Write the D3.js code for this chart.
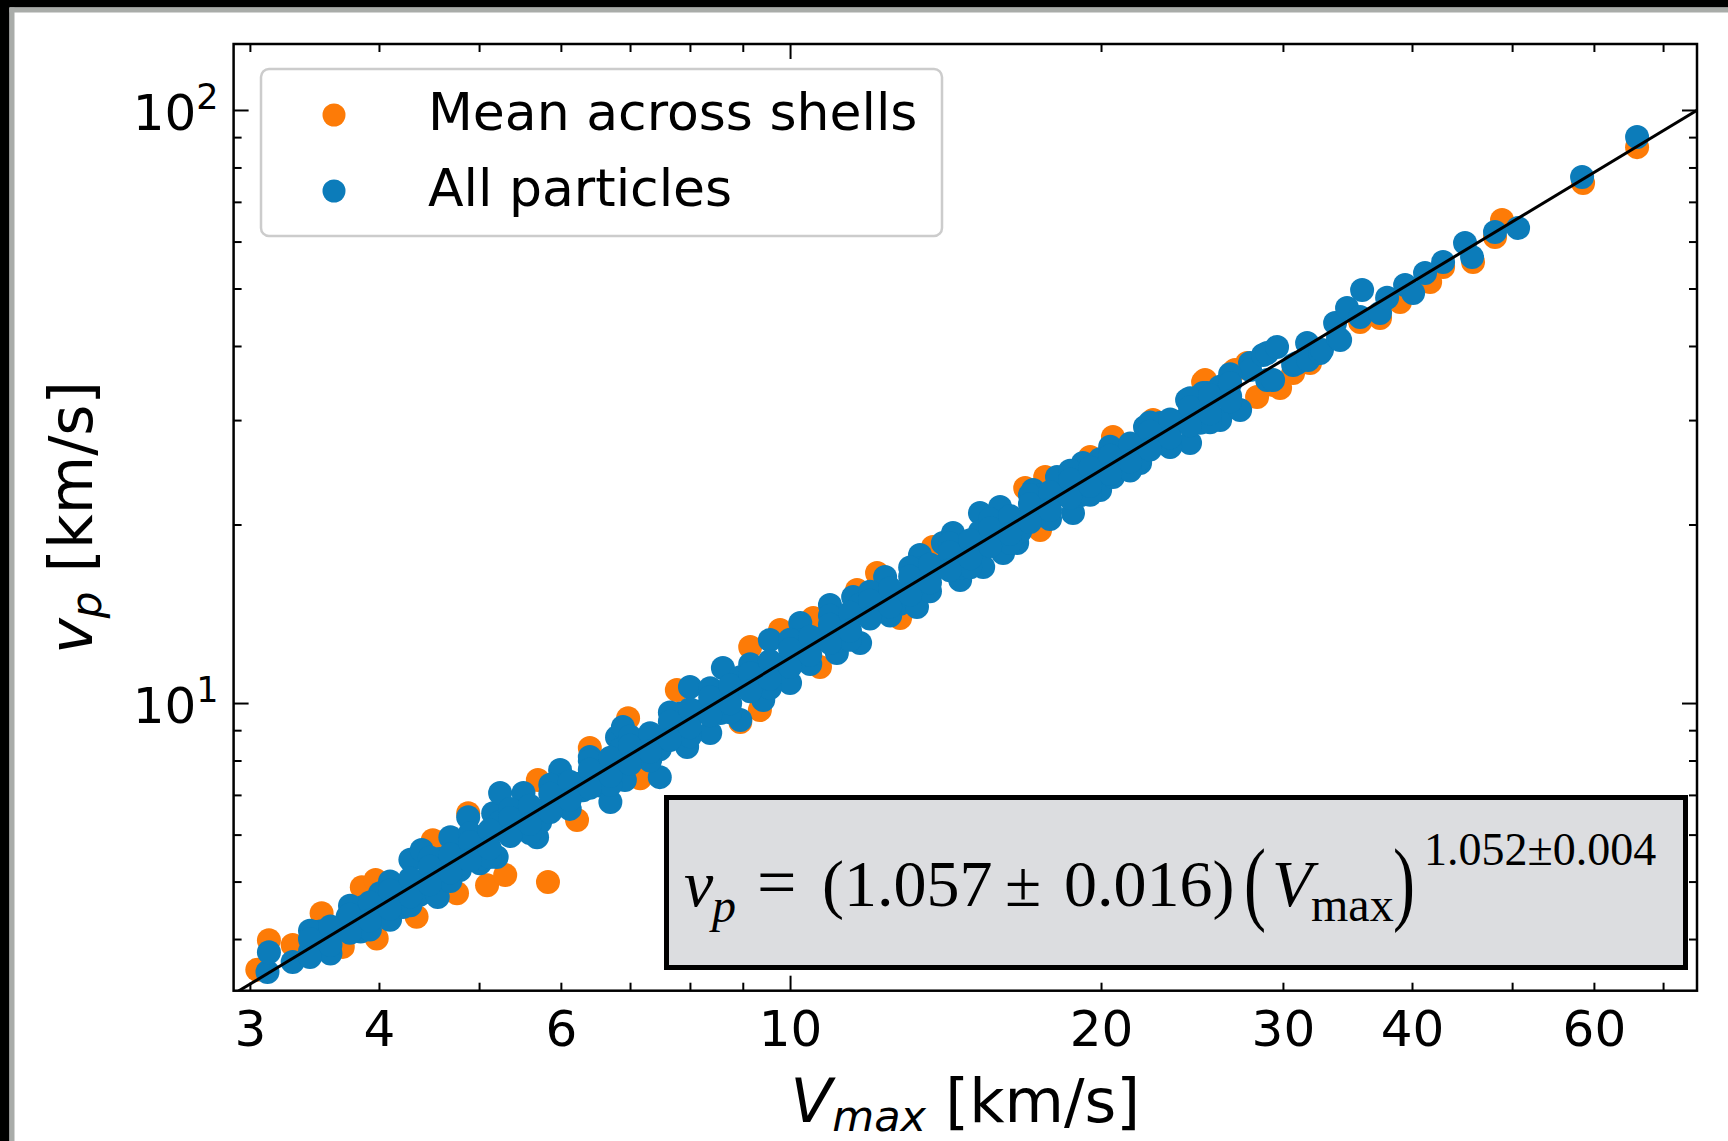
<!DOCTYPE html>
<html lang="en">
<head>
<meta charset="UTF-8" />
<title>vp vs Vmax</title>
<script src="https://cdn.jsdelivr.net/npm/d3@7/dist/d3.min.js"></script>
<style>
  body { margin: 0; padding: 0; background: #fff; }
  svg { display: block; }
</style>
</head>
<body>
<svg width="1728" height="1141"></svg>
<script>
// values, [Vmax, vp] in km/s
var meanShells = [
  [3.05,3.55],[3.13,3.98],[3.30,3.91],[3.52,4.42],[3.59,3.88],[3.69,3.88],[3.98,4.01],[3.85,4.89],
  [3.97,5.03],[4.35,4.36],[4.51,5.87],[4.76,4.78],[4.88,6.52],[5.09,4.93],[5.30,5.13],[5.83,4.99],
  [5.70,7.42],[6.22,6.35],[6.40,8.40],[7.16,7.47],[6.97,9.43],[7.77,10.52],[8.95,9.29],[9.35,9.73],
  [9.15,12.43],[9.78,13.28],[10.69,11.50],[10.53,13.91],[11.61,15.51],[12.14,16.57],[12.78,13.91],
  [13.75,18.33],[16.89,23.04],[17.46,19.58],[17.66,24.05],[19.52,25.99],[20.54,28.09],[22.46,30.01],
  [25.11,34.78],[25.22,35.05],[26.84,36.16],[26.96,36.44],[27.70,37.44],[28.32,32.81],[29.35,34.38],
  [29.81,33.98],[30.69,36.02],[31.87,37.44],[35.63,43.90],[37.25,44.59],[38.95,47.45],[41.65,51.28],
  [42.87,54.36],[45.83,55.43],[48.13,61.08],[48.89,65.25],[58.57,75.32],[66.06,86.57]
]
var allParticles = [
  [3.12,3.52],[3.13,3.80],[3.30,3.66],[3.47,4.11],[3.53,4.09],[3.51,4.12],[3.67,4.18],[3.73,4.36],
  [3.84,4.12],[3.86,4.53],[4.01,4.78],[4.01,4.74],[4.10,4.31],[4.19,4.80],[4.22,4.53],[4.29,5.44],
  [4.38,4.75],[4.40,5.65],[4.55,5.17],[4.56,4.71],[4.58,5.46],[4.69,5.94],[4.79,5.23],[4.79,5.52],
  [4.88,6.42],[5.01,5.37],[5.01,5.47],[5.16,6.52],[5.20,5.50],[5.24,7.05],[5.24,6.30],[5.39,6.11],
  [5.48,6.35],[5.52,7.05],[5.69,5.94],[5.73,6.30],[5.99,7.71],[5.99,7.25],[6.03,6.78],[6.26,7.31],
  [6.30,7.13],[6.40,8.11],[6.55,7.26],[6.70,6.81],[6.80,8.76],[6.85,8.35],[6.89,9.11],[6.92,7.42],
  [7.16,8.23],[7.16,8.41],[7.48,7.50],[7.48,8.36],[7.65,8.66],[7.83,9.60],[7.95,8.43],[8.00,10.64],
  [8.18,9.68],[8.37,8.90],[8.56,9.62],[8.61,11.46],[8.95,9.36],[8.95,11.05],[9.35,11.14],[9.42,10.12],
  [9.56,12.77],[9.78,11.08],[10.00,10.81],[10.23,13.64],[10.23,12.74],[10.69,12.82],[10.93,14.63],
  [11.10,12.14],[11.18,12.76],[11.51,15.09],[11.69,12.62],[11.69,14.66],[12.22,14.75],[12.36,16.31],
  [12.78,14.70],[13.27,14.52],[13.36,17.77],[13.36,16.88],[13.97,16.98],[14.06,18.61],[14.38,19.35],
  [14.61,16.12],[14.61,16.90],[15.27,20.91],[15.27,17.22],[15.27,19.44],[15.38,16.96],[15.97,21.41],
  [15.97,19.55],[16.08,17.91],[16.59,18.61],[16.70,19.46],[17.19,22.87],[17.46,22.38],[18.13,24.05],
  [18.25,22.50],[18.79,20.91],[19.09,22.40],[19.21,25.39],[19.96,22.87],[19.96,25.76],[20.54,24.05],
  [20.87,25.90],[21.82,25.39],[21.82,25.78],[22.06,29.20],[22.81,29.66],[23.33,27.02],[23.85,29.80],
  [24.23,32.43],[24.39,27.44],[24.94,29.70],[25.11,33.33],[25.33,33.33],[26.08,30.01],[26.08,34.15],
  [26.55,33.72],[27.27,31.20],[27.88,37.44],[27.88,36.44],[28.70,38.63],[28.96,38.93],[28.96,35.05],
  [29.35,35.05],[29.61,39.84],[30.69,37.15],[30.96,37.44],[31.66,40.47],[31.73,37.88],[32.59,38.93],
  [32.73,39.38],[33.70,43.73],[33.92,41.26],[34.08,40.94],[34.61,46.36],[35.63,44.76],[35.79,49.71],
  [37.25,45.47],[37.84,48.22],[39.39,50.69],[40.10,49.14],[41.18,53.11],[42.87,55.43],[45.02,59.67],
  [45.73,56.51],[48.13,62.27],[50.67,63.25],[58.44,77.10],[66.06,90.05],
  // the solid part of the band
  [3.43,4.13],[3.43,3.81],[3.59,3.78],[3.59,4.11],[3.75,4.55],[3.75,4.18],[3.92,4.15],[3.92,4.52],
  [4.10,5.00],[4.10,4.59],[4.29,4.56],[4.29,4.96],[4.48,5.49],[4.48,5.04],[4.69,5.01],[4.69,5.45],
  [4.90,6.03],[4.90,5.54],[5.12,5.50],[5.12,5.99],[5.36,6.63],[5.36,6.08],[5.60,6.04],[5.60,6.58],
  [5.86,7.28],[5.86,6.68],[6.12,6.63],[6.12,7.22],[6.40,7.99],[6.40,7.34],[6.70,7.28],[6.70,7.93],
  [7.00,8.78],[7.00,8.06],[7.32,8.00],[7.32,8.71],[7.65,9.64],[7.65,8.85],[8.00,8.79],[8.00,9.57],
  [8.37,10.59],[8.37,9.72],[8.75,9.65],[8.75,10.51],[9.15,11.63],[9.15,10.68],[9.56,10.60],[9.56,11.55],
  [10.00,12.78],[10.00,11.73],[10.46,11.64],[10.46,12.68],[10.93,14.03],[10.93,12.88],[11.43,12.79],
  [11.43,13.93],[11.95,15.41],[11.95,14.15],[12.50,14.05],[12.50,15.30],[13.07,16.93],[13.07,15.54],
  [13.66,15.43],[13.66,16.80],[14.28,18.59],[14.28,17.07],[14.94,16.94],[14.94,18.46],[15.62,20.42],
  [15.62,18.75],[16.33,18.61],[16.33,20.27],[17.07,22.43],[17.07,20.59],[17.85,20.44],[17.85,22.26],
  [18.67,24.64],[18.67,22.62],[19.52,22.45],[19.52,24.45],[20.41,27.06],[20.41,24.84],[21.34,24.66],
  [21.34,26.86],[22.31,29.72],[22.31,27.29],[23.33,27.08],[23.33,29.50],[24.39,32.64],[24.39,29.97],
  [25.50,29.75],[25.50,32.40],[26.67,35.85],[26.67,32.92],
  [3.43,4.00],[3.43,3.73],[3.59,4.20],[3.59,3.91],[3.75,4.40],[3.75,4.10],[3.92,4.61],[3.92,4.30],
  [4.10,4.83],[4.10,4.50],[4.29,5.06],[4.29,4.72],[4.48,5.30],[4.48,4.95],[4.69,5.56],[4.69,5.18],
  [4.90,5.83],[4.90,5.43],[5.12,6.10],[5.12,5.69],[5.36,6.40],[5.36,5.97],[5.60,6.71],[5.60,6.25],
  [5.86,7.03],[5.86,6.55],[6.12,7.37],[6.12,6.87],[6.40,7.72],[6.40,7.20],[6.70,8.09],[6.70,7.54],
  [7.00,8.48],[7.00,7.90],[7.32,8.89],[7.32,8.28],[7.65,9.31],[7.65,8.68],[8.00,9.76],[8.00,9.10],
  [8.37,10.23],[8.37,9.54],[8.75,10.72],[8.75,9.99],[9.15,11.23],[9.15,10.47],[9.56,11.77],[9.56,10.98],
  [10.00,12.34],[10.00,11.50],[10.46,12.93],[10.46,12.06],[10.93,13.55],[10.93,12.63],[11.43,14.20],
  [11.43,13.24],[11.95,14.88],[11.95,13.88],[12.50,15.60],[12.50,14.54],[13.07,16.35],[13.07,15.24],
  [13.66,17.13],[13.66,15.97],[14.28,17.95],[14.28,16.74],[14.94,18.82],[14.94,17.54],[15.62,19.72],
  [15.62,18.39],[16.33,20.67],[16.33,19.27],[17.07,21.66],[17.07,20.20],[17.85,22.70],[17.85,21.16],
  [18.67,23.79],[18.67,22.18],[19.52,24.93],[19.52,23.25],[20.41,26.13],[20.41,24.36],[21.34,27.38],
  [21.34,25.53],[22.31,28.70],[22.31,26.76],[23.33,30.08],[23.33,28.04],[24.39,31.52],[24.39,29.39],
  [25.50,33.03],[25.50,30.80],[26.67,34.62],[26.67,32.28]
]
var xTicks = [3, 4, 5, 6, 7, 8, 9, 10, 20, 30, 40, 50, 60, 70]
var xTickLabels = [3, 4, 6, 10, 20, 30, 40, 60]
var yTicks = [4, 5, 6, 7, 8, 9, 10, 20, 30, 40, 50, 60, 70, 80, 90, 100]
var yTickLabels = [10, 100]
var majorTicks = [10, 100]
// fit shown in the box
var fitNorm = 1.057
var fitSlope = 1.052

var orange = '#fd7b07'
var blue = '#0c7cba'
var dotR = 12

var svg = d3.select('svg')
// note: "top" is a read-only global in browsers, so use other names
var x0 = 233.6, x1 = 1697, y0 = 990.7, y1 = 44

// dark frame on the left / top edges of the screenshot
svg.append('rect').attr('x', 0).attr('y', 0).attr('width', 1728).attr('height', 1141).attr('fill', '#fff')
svg.append('rect').attr('x', 0).attr('y', 0).attr('width', 9.5).attr('height', 1141).attr('fill', '#000')
svg.append('rect').attr('x', 0).attr('y', 0).attr('width', 1728).attr('height', 7.5).attr('fill', '#000')
svg.append('rect').attr('x', 9.5).attr('y', 7.5).attr('width', 5).attr('height', 1134).attr('fill', '#a9aca9')
svg.append('rect').attr('x', 9.5).attr('y', 7.5).attr('width', 1719).attr('height', 5).attr('fill', '#a9aca9')

var xScale = d3.scaleLog().domain([2.893, 75.5]).range([x0, x1])
var yScale = d3.scaleLog().domain([3.273, 129.2]).range([y0, y1])

svg.append('clipPath').attr('id', 'plot')
  .append('rect').attr('x', x0).attr('y', y1).attr('width', x1 - x0).attr('height', y0 - y1)

var plot = svg.append('g').attr('clip-path', 'url(#plot)')

plot.selectAll('.mean').data(meanShells).enter().append('circle')
  .attr('class', 'mean')
  .attr('cx', d => xScale(d[0]))
  .attr('cy', d => yScale(d[1]))
  .attr('r', dotR)
  .attr('fill', orange)

plot.selectAll('.all').data(allParticles).enter().append('circle')
  .attr('class', 'all')
  .attr('cx', d => xScale(d[0]))
  .attr('cy', d => yScale(d[1]))
  .attr('r', dotR)
  .attr('fill', blue)

var fitLine = d3.line()
  .x(d => xScale(d))
  .y(d => yScale(fitNorm * Math.pow(d, fitSlope)))
plot.append('path')
  .datum(xScale.domain())
  .attr('d', fitLine)
  .attr('fill', 'none')
  .attr('stroke', '#000')
  .attr('stroke-width', 3)

// axes, ticks pointing inward on all four sides
function ticks(sel, isX) {
  sel.select('.domain').remove()
  sel.selectAll('.tick line').attr('stroke', '#000').attr('stroke-width', 2)
  sel.selectAll('.tick line').each(function (d) {
    var len = majorTicks.includes(d) ? 15 : 8
    var line = d3.select(this)
    var attr = isX ? 'y2' : 'x2'
    var sign = +line.attr(attr) < 0 ? -1 : 1
    line.attr(attr, sign * len)
  })
}

svg.append('g').attr('transform', `translate(0,${y0})`)
  .call(d3.axisBottom(xScale).tickValues(xTicks).tickSizeInner(-8).tickSizeOuter(0).tickPadding(20)
    .tickFormat(d => xTickLabels.includes(d) ? d : ''))
  .call(g => ticks(g, true))
  .call(g => g.selectAll('.tick text').attr('font-family', 'DejaVu Sans').attr('font-size', 50).attr('fill', '#000'))

svg.append('g').attr('transform', `translate(0,${y1})`)
  .call(d3.axisTop(xScale).tickValues(xTicks).tickSizeInner(-8).tickSizeOuter(0).tickFormat(''))
  .call(g => ticks(g, true))

svg.append('g').attr('transform', `translate(${x0},0)`)
  .call(d3.axisLeft(yScale).tickValues(yTicks).tickSizeInner(-8).tickSizeOuter(0).tickFormat(''))
  .call(g => ticks(g, false))

svg.append('g').attr('transform', `translate(${x1},0)`)
  .call(d3.axisRight(yScale).tickValues(yTicks).tickSizeInner(-8).tickSizeOuter(0).tickFormat(''))
  .call(g => ticks(g, false))

var yLab = svg.selectAll('.ylab').data(yTickLabels).enter().append('text')
  .attr('class', 'ylab')
  .attr('x', x0 - 15)
  .attr('y', d => yScale(d) + 20)
  .attr('text-anchor', 'end')
  .attr('font-family', 'DejaVu Sans')
  .attr('font-size', 50)
yLab.append('tspan').text('10')
yLab.append('tspan').attr('font-size', 35).attr('dy', -21).text(d => Math.round(Math.log10(d)))

svg.append('rect')
  .attr('x', x0).attr('y', y1).attr('width', x1 - x0).attr('height', y0 - y1)
  .attr('fill', 'none').attr('stroke', '#000').attr('stroke-width', 2.5)

// axis titles
var xt = svg.append('text')
  .attr('x', (x0 + x1) / 2).attr('y', 1122)
  .attr('text-anchor', 'middle')
  .attr('font-family', 'DejaVu Sans').attr('font-size', 61)
xt.append('tspan').attr('font-style', 'italic').text('V')
xt.append('tspan').attr('font-style', 'italic').attr('font-size', 43).attr('dy', 9).text('max')
xt.append('tspan').attr('dy', -9).text(' [km/s]')

var yt = svg.append('text')
  .attr('transform', `translate(92,${(y0 + y1) / 2}) rotate(-90)`)
  .attr('text-anchor', 'middle')
  .attr('font-family', 'DejaVu Sans').attr('font-size', 60)
yt.append('tspan').attr('font-style', 'italic').text('v')
yt.append('tspan').attr('font-style', 'italic').attr('font-size', 42).attr('dy', 9).text('p')
yt.append('tspan').attr('dy', -9).text(' [km/s]')

// legend
var lg = svg.append('g')
lg.append('rect')
  .attr('x', 261).attr('y', 69).attr('width', 681).attr('height', 167).attr('rx', 8)
  .attr('fill', '#fff').attr('fill-opacity', 0.8)
  .attr('stroke', '#cccccc').attr('stroke-width', 2.5)
var legendItems = [['Mean across shells', orange], ['All particles', blue]]
legendItems.forEach(function (item, i) {
  lg.append('circle').attr('cx', 334).attr('cy', 115 + i * 76).attr('r', 11.5).attr('fill', item[1])
  lg.append('text').attr('x', 428).attr('y', 130 + i * 76)
    .attr('font-family', 'DejaVu Sans').attr('font-size', 52).text(item[0])
})

// fit box
var eq = svg.append('g').attr('font-family', 'Liberation Serif').attr('fill', '#000')
eq.append('rect')
  .attr('x', 666.5).attr('y', 797.5).attr('width', 1019).attr('height', 170)
  .attr('fill', '#dcdde0').attr('stroke', '#000').attr('stroke-width', 5)
eq.append('text').attr('x', 684).attr('y', 906).attr('font-size', 66).attr('font-style', 'italic').text('v')
eq.append('text').attr('x', 712).attr('y', 922).attr('font-size', 48).attr('font-style', 'italic').text('p')
eq.append('text').attr('x', 757).attr('y', 906).attr('font-size', 70).text('=')
eq.append('text').attr('x', 822).attr('y', 906).attr('font-size', 66).text('(' + fitNorm.toFixed(3))
eq.append('text').attr('x', 1005).attr('y', 906).attr('font-size', 66).text('\u00b1')
eq.append('text').attr('x', 1064).attr('y', 906).attr('font-size', 66).text('0.016)')
// tall delimiters around V_max
eq.append('text').attr('transform', 'translate(1244,913) scale(1,1.42)').attr('font-size', 66).text('(')
eq.append('text').attr('x', 1272).attr('y', 906).attr('font-size', 66).attr('font-style', 'italic').text('V')
eq.append('text').attr('x', 1311).attr('y', 921).attr('font-size', 48).text('max')
eq.append('text').attr('transform', 'translate(1393,913) scale(1,1.42)').attr('font-size', 66).text(')')
eq.append('text').attr('x', 1424).attr('y', 865).attr('font-size', 46).text(fitSlope.toFixed(3) + '\u00b10.004')
</script>
</body>
</html>
